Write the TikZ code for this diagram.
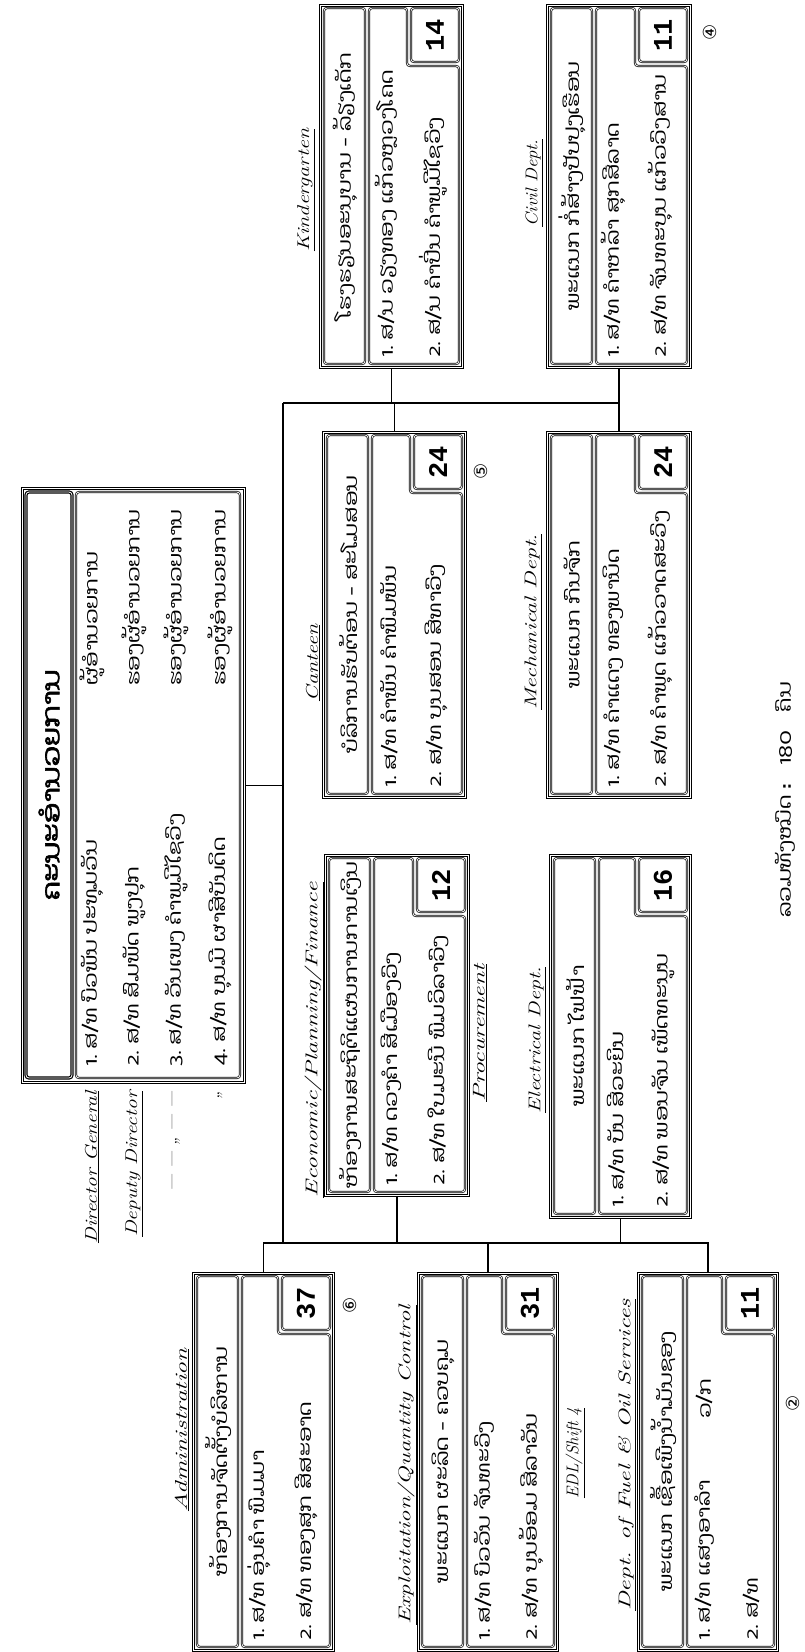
\documentclass[tikz,border=0pt]{standalone}
\usepackage{fontspec}
\usepackage{graphicx}
\newfontfamily\lao[Script=Lao,FakeStretch=1.25]{Dhyana}
\newfontfamily\laobold[Script=Lao,FakeBold=2.5,FakeStretch=1.25]{Dhyana}
\newfontfamily\dejavu{DejaVu Sans}
\newfontfamily\mono{Liberation Mono}
\usetikzlibrary{calc}
\tikzset{
 outerbox/.style={draw, double, double distance=1.8pt, line width=0.9pt, inner sep=0pt, anchor=north west},
 subbox/.style={draw, double, double distance=0.8pt, line width=0.7pt, rounded corners=3pt},
 laotxt/.style={rotate=90, font=\lao\fontsize{18}{20}\selectfont, inner sep=1pt},
 hand/.style={rotate=90, font=\itshape\fontsize{17}{19}\selectfont, inner sep=1pt},
 numtxt/.style={rotate=90, font=\mono\bfseries\fontsize{27}{29}\selectfont, inner sep=1pt},
 circ/.style={rotate=90, font=\dejavu\fontsize{18}{20}\selectfont, inner sep=1pt},
 conn/.style={line width=1.3pt},
}
\newcommand\hw[2]{\scalebox{#1}[1]{\underline{#2}}}
\newcommand\dept[9]{%
 \node[outerbox, minimum width={(#4-#2)*1pt}, minimum height={(#5-#3)*1pt}] (#1) at (#2,-#3) {};
 \draw[subbox] ({#2+4},{-#3-3}) rectangle ({#2+45},{-#5+3});
 \node[laotxt] (#1h) at ({#2+25},{-(#3+#5)/2}) {#6};
 \draw[subbox] ({#2+49},{-#3-3}) -- ({#4-55},{-#3-3}) -- ({#4-55},{-#3-61}) -- ({#4-3},{-#3-61}) -- ({#4-3},{-#5+3}) -- ({#2+49},{-#5+3}) -- cycle;
 \node[laotxt, anchor=west] (#1a) at ({#2+66},{-#5+8}) {#7};
 \node[laotxt, anchor=west] (#1b) at ({#2+113},{-#5+8}) {#8};
 \draw[subbox] ({#4-51},{-#3-3}) rectangle ({#4-3},{-#3-57});
 \node[numtxt] (#1n) at ({#4-27},{-#3-30}) {#9};
}
\begin{document}
\begin{tikzpicture}[x=1pt,y=1pt]
\useasboundingbox (0,0) rectangle (804,-1652);
\fill[white] (0,0) rectangle (804,-1652);

% title box
\node[outerbox, minimum width=222pt, minimum height=594pt] (title) at (22,-488) {};
\draw[subbox, line width=1.2pt] (26,-492) rectangle (72,-1078);
\node[laotxt, font=\laobold\fontsize{24}{26}\selectfont] (titleh) at (49,-785) {ຄະນະອຳນວຍການ};
\draw[subbox] (76,-492) rectangle (240,-1078);
\node[laotxt, anchor=west] (t1) at (92,-1068) {1.\ ສ/ທ ບົວພັນ ປະທຸມວັນ};
\node[laotxt, anchor=west] (t1r) at (92,-687) {ຜູ້ອຳນວຍການ};
\node[laotxt, anchor=west] (t2) at (134,-1068) {2.\ ສ/ທ ສົມພັດ ພູງປຸກ};
\node[laotxt, anchor=west] (t2r) at (134,-687) {ຮອງຜູ້ອຳນວຍການ};
\node[laotxt, anchor=west] (t3) at (176,-1068) {3.\ ສ/ທ ວັນເພງ ຄຳພູມີໄຊວົງ};
\node[laotxt, anchor=west] (t3r) at (176,-687) {ຮອງຜູ້ອຳນວຍການ};
\node[laotxt, anchor=west] (t4) at (220,-1068) {4.\ ສ/ທ ບຸນມີ ຜາສີບັນດິດ};
\node[laotxt, anchor=west] (t4r) at (220,-687) {ຮອງຜູ້ອຳນວຍການ};

\node[hand, anchor=east] (hd1) at (92,-1090) {\hw{1.25}{Director General}};
\node[hand, anchor=east] (hd2) at (134,-1090) {\hw{1.25}{Deputy Director}};
\node[hand, anchor=east] (hd3) at (176,-1090) {--- --- ,, --- ---};
\node[hand, anchor=east] (hd4) at (220,-1090) {,,};

% departments
\dept{admin}{193}{1273}{333}{1650}{ຫ້ອງການຈັດຕັ້ງບໍລິຫານ}{1.\ ສ/ທ ອຸ່ນຄຳ ພົມມາ}{2.\ ສ/ທ ທອງສຸກ ສີສະອາດ}{37}
\dept{expl}{418}{1273}{557}{1650}{ພະແນກ ຜະລິດ - ຄວບຄຸມ}{1.\ ສ/ທ ບົວວັນ ຈັນທະວົງ}{2.\ ສ/ທ ບຸນອ້ອມ ສີລາວັນ}{31}
\dept{fuel}{638}{1273}{777}{1650}{ພະແນກ ເຊື້ອເພີງນ້ຳມັນຊອງ}{1.\ ສ/ທ ແສງອາລຳ}{2.\ ສ/ທ}{11}
\node[laotxt, anchor=west] (fuelv) at (704,-1420) {ວ/ກ};
\dept{econ}{325}{855}{468}{1195}{ຫ້ອງການສະຖິຕິແຜນການການເງິນ}{1.\ ສ/ທ ດວງຄຳ ສີເມືອງວົງ}{2.\ ສ/ທ ໃບມະນີ ພົມວິລາວົງ}{12}
\dept{elec}{550}{855}{690}{1217}{ພະແນກ ໄຟຟ້າ}{1.\ ສ/ທ ບັນ ສີວະຍິນ}{2.\ ສ/ທ ພອນຈັນ ເພັດທະນູນ}{16}
\dept{cant}{323}{432}{465}{797}{ບໍລິການຮັບຕ້ອນ - ສະໂມສອນ}{1.\ ສ/ທ ຄຳພັນ ຄຳພົມພັນ}{2.\ ສ/ທ ບຸນສອນ ສີທາວົງ}{24}
\dept{mech}{547}{432}{690}{797}{ພະແນກ ກົນຈັກ}{1.\ ສ/ທ ຄຳແດງ ທອງພານິດ}{2.\ ສ/ທ ຄຳພຸດ ແກ້ວວາດສະວົງ}{24}
\dept{kind}{320}{5}{462}{367}{ໂຮງຮຽນອະນຸບານ - ລ້ຽງເດັກ}{1.\ ສ/ນ ວຽງທອງ ແກ້ວຫຼວງໂຄດ}{2.\ ສ/ນ ຄຳປິ່ນ ຄຳພູມີໄຊວົງ}{14}
\dept{civil}{547}{5}{690}{367}{ພະແນກ ກໍ່ສ້າງປັບປຸງເຮືອນ}{1.\ ສ/ທ ຄຳຫລ້າ ສຸກສີລາດ}{2.\ ສ/ທ ຈັນທະບຸນ ແກ້ວວົງສານ}{11}

% connectors
\coordinate (bt) at (283,-403);
\coordinate (bb) at (283,-1243);
\draw[conn] (bt) -- (bb);
\draw[conn] (title.east) -- (title.east -| bt);
\draw[conn] (admin.north) -- (admin.north |- bb) -- (fuel.north |- bb) -- (fuel.north);
\draw[conn] (expl.north) -- (expl.north |- bb);
\draw[conn] (econ.south) -- (econ.south |- bb);
\draw[conn] (elec.south) -- (elec.south |- bb);
\draw[conn] (bt) -- (mech.north |- bt) -- (mech.north);
\draw[conn] (cant.north) -- (cant.north |- bt);
\draw[conn] (kind.south) -- (kind.south |- bt);
\draw[conn] (civil.south) -- (civil.south |- bt);

% handwritten labels
\node[hand] (ladmin) at (182,-1430) {\hw{1.5}{Administration}};
\node[hand] (lexpl) at (407,-1465) {\hw{1.45}{Exploitation/Quantity Control}};
\node[hand] (lshift) at (575,-1453) {\hw{1.0}{EDL/Shift 4}};
\node[hand] (lfuel) at (627,-1455) {\hw{1.5}{Dept. of Fuel \& Oil Services}};
\node[hand] (lecon) at (314,-1040) {\hw{1.5}{Economic/Planning/Finance}};
\node[hand] (lproc) at (480,-1033) {\hw{1.5}{Procurement}};
\node[hand] (lelec) at (537,-1040) {\hw{1.3}{Electrical Dept.}};
\node[hand] (lcant) at (313,-663) {\hw{1.3}{Canteen}};
\node[hand] (lmech) at (533,-622) {\hw{1.4}{Mechanical Dept.}};
\node[hand] (lkind) at (306,-190) {\hw{1.3}{Kindergarten}};
\node[hand] (lcivil) at (534,-183) {\hw{1.1}{Civil Dept.}};

% circled numbers
\node[circ] (c6) at (350,-1305) {⑥};
\node[circ] (c2) at (793,-1403) {②};
\node[circ] (c5) at (481,-471) {⑤};
\node[circ] (c4) at (710,-32) {④};

% total
\node[laotxt] (total) at (785,-800) {ລວມທັງໝົດ :\quad 180\quad ຄົນ};
\end{tikzpicture}
\end{document}
